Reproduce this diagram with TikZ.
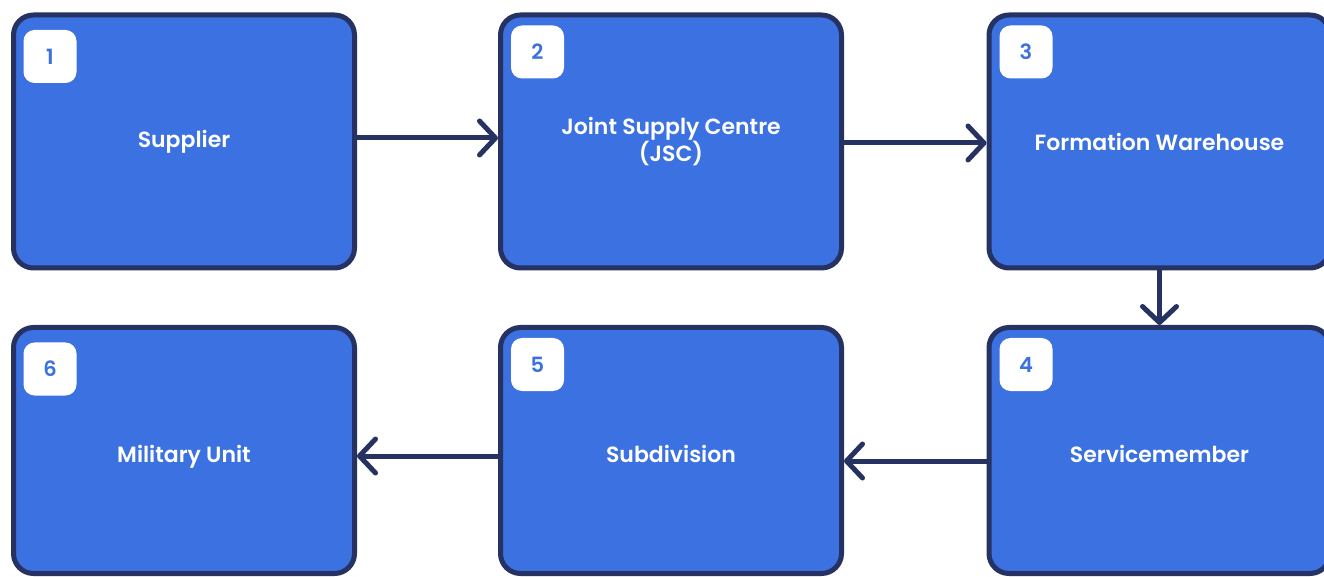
\documentclass[tikz,border=0pt]{standalone}
\usepackage{fontspec}
\setmainfont{Poppins}[BoldFont={Poppins SemiBold}]
\usetikzlibrary{positioning,arrows.meta}
\definecolor{cardblue}{HTML}{3B71E0}
\definecolor{navy}{HTML}{263262}
\tikzset{>={Straight Barb[length=16pt,width=34pt,line cap=round,line join=round]}}
\tikzset{
  card/.style={draw=navy,fill=cardblue,line width=5pt,rounded corners=20pt,minimum width=341pt,
    text=white,align=center,font=\fontsize{22}{23.5}\selectfont\bfseries},
  lower/.style={text height=29pt,text depth=6pt},
  badge/.style={fill=white,rounded corners=11pt,minimum size=53pt,inner sep=0pt,
    text=cardblue,font=\fontsize{21}{22}\selectfont\bfseries},
  flow/.style={->,draw=navy,line width=5pt}
}

\begin{document}
\begin{tikzpicture}[x=1pt,y=1pt]
\useasboundingbox (0,0) rectangle (1324,576);
% top row
\node[card,minimum height=253pt] (b1) at (184,434.5) {Supplier};
\node[card,minimum height=253pt] (b2) at (671,434.5) {Joint Supply Centre\\(JSC)};
\node[card,minimum height=253pt] (b3) at (1159.5,434.5) {Formation Warehouse};
% bottom row
\node[card,lower,minimum height=246pt] (b4) at (1159.5,125.5) {Servicemember};
\node[card,lower,minimum height=246pt] (b5) at (671,125.5) {Subdivision};
\node[card,lower,minimum height=246pt] (b6) at (184,125.5) {Military Unit};
% numbers
\node[badge] (n1) at ([shift={(39,-44)}]b1.north west) {1};
\node[badge] (n2) at ([shift={(39.5,-39.5)}]b2.north west) {2};
\node[badge] (n3) at ([shift={(39.5,-39.5)}]b3.north west) {3};
\node[badge] (n4) at ([shift={(39.5,-39.5)}]b4.north west) {4};
\node[badge] (n5) at ([shift={(39.5,-39.5)}]b5.north west) {5};
\node[badge] (n6) at ([shift={(39,-44)}]b6.north west) {6};
% flow
\draw[flow] ([yshift=3.5pt]b1.east) -- ([yshift=3.5pt]b2.west);
\draw[flow] ([yshift=-1.5pt]b2.east) -- ([yshift=-1.5pt]b3.west);
\draw[flow] (b3.south) -- (b4.north);
\draw[flow] ([yshift=-10.5pt]b4.west) -- ([yshift=-10.5pt]b5.east);
\draw[flow] ([yshift=-5.5pt]b5.west) -- ([yshift=-5.5pt]b6.east);
\end{tikzpicture}
\end{document}
